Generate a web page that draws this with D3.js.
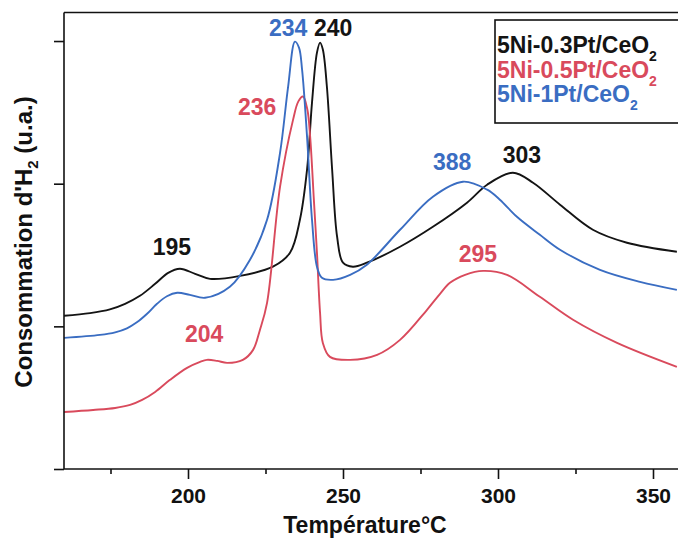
<!DOCTYPE html>
<html><head><meta charset="utf-8">
<script src="https://cdn.jsdelivr.net/npm/d3@7/dist/d3.min.js"></script>
<style>
html,body{margin:0;padding:0;background:#fff;}
svg{display:block;font-family:"Liberation Sans",Arial,sans-serif;font-weight:bold;}
</style></head>
<body><svg id="c" width="678" height="540"></svg>
<script>
// ---- data ----
const seriesNames = ["5Ni-0.3Pt/CeO", "5Ni-0.5Pt/CeO", "5Ni-1Pt/CeO"];
const seriesColors = ["#141414", "#d94a5c", "#3a6dc2"];
const temp03 = [160,168.4,174.8,179.7,184.5,189.4,193.6,197.4,202.3,207.1,216.8,227.4,232.9,236.1,238.4,240.0,241.6,242.6,243.5,244.8,246.5,248.1,250.0,253.2,257.7,268.4,279.0,290.0,296.5,304.8,311.3,320.0,330.6,341.6,357.7];
const val03  = [1.074,1.093,1.119,1.158,1.214,1.298,1.375,1.404,1.368,1.333,1.354,1.418,1.516,1.747,2.098,2.568,2.919,2.989,2.940,2.681,2.098,1.628,1.446,1.418,1.446,1.558,1.698,1.867,1.993,2.077,2.007,1.853,1.677,1.586,1.523];
const temp05 = [160,169.4,176.5,181.3,185.2,189.4,194.2,199.7,203.9,206.1,209.4,212.6,217.7,221.0,223.2,225.5,229.7,233.9,235.6,237.1,238.5,239.4,240.6,241.6,242.6,243.5,245.8,252.3,261.0,268.4,277.1,281.3,284.5,289.4,295.2,302.9,313.5,324.2,338.4,357.7];
const val05  = [0.400,0.414,0.428,0.449,0.484,0.540,0.625,0.709,0.751,0.765,0.758,0.744,0.765,0.835,0.975,1.165,1.979,2.449,2.577,2.611,2.520,2.330,1.888,1.516,1.095,0.884,0.786,0.765,0.800,0.905,1.116,1.228,1.305,1.361,1.389,1.361,1.207,1.046,0.884,0.716];
const temp1  = [160,171.6,176.5,180.3,183.5,186.8,190.0,193.2,196.5,200.6,205.5,213.5,220.0,225.5,229.7,232.3,234.5,235.8,236.8,238.4,240.0,241.6,243.2,246.8,252.3,257.7,268.4,279.0,288.7,296.5,300.6,306.1,313.5,320.0,332.9,345.8,357.7];
const val1   = [0.919,0.940,0.958,0.986,1.028,1.088,1.158,1.211,1.235,1.221,1.200,1.277,1.467,1.747,2.218,2.681,2.996,2.954,2.800,2.330,1.747,1.418,1.340,1.326,1.361,1.432,1.677,1.909,2.014,1.958,1.888,1.768,1.642,1.537,1.396,1.312,1.256];
const xMajorTicks = [200, 250, 300, 350];
const xMinorTicks = [175, 225, 275, 325];
const yTicks = [0, 1, 2, 3];
const peakLabels = [
  {t:"195", s:0, x:194.8, y:1.502},
  {t:"240", s:0, x:246.8, y:3.032},
  {t:"303", s:0, x:307.7, y:2.147},
  {t:"236", s:1, x:222.3, y:2.484},
  {t:"204", s:1, x:205.2, y:0.891},
  {t:"295", s:1, x:293.5, y:1.453},
  {t:"234", s:2, x:232.3, y:3.032},
  {t:"388", s:2, x:285.2, y:2.098}
];
const xTitle = "Température°C";

// ---- chart ----
const svg = d3.select("#c");
const mL = 64, mR = 684, mT = 12.5, mB = 469;
const x = d3.scaleLinear().domain([160, 360]).range([mL, mR]);
const y = d3.scaleLinear().domain([0, 3.2]).range([mB, mT]);

const series = [
  {name: seriesNames[0], color: seriesColors[0], t: temp03, v: val03},
  {name: seriesNames[1], color: seriesColors[1], t: temp05, v: val05},
  {name: seriesNames[2], color: seriesColors[2], t: temp1,  v: val1}
];

svg.append("defs").append("clipPath").attr("id","clip")
  .append("rect").attr("x",mL).attr("y",mT).attr("width",mR-mL).attr("height",mB-mT);

const line = d3.line().x(d => x(d[0])).y(d => y(d[1])).curve(d3.curveCatmullRom.alpha(0.5));
const g = svg.append("g").attr("clip-path","url(#clip)");
series.forEach(s => {
  g.append("path").datum(s.t.map((t,i)=>[t,s.v[i]]))
    .attr("fill","none").attr("stroke",s.color).attr("stroke-width",1.9)
    .attr("stroke-linejoin","round").attr("d",line);
});

// axes
const xAxis = svg.append("g").attr("transform",`translate(0,${mB})`)
  .call(d3.axisBottom(x).tickValues(xMajorTicks).tickSize(10).tickPadding(9).tickFormat(d3.format("d")));
const xMinor = svg.append("g").attr("transform",`translate(0,${mB})`)
  .call(d3.axisBottom(x).tickValues(xMinorTicks).tickSize(5).tickFormat(""));
const yAxis = svg.append("g").attr("transform",`translate(${mL},0)`)
  .call(d3.axisLeft(y).tickValues(yTicks).tickSize(10).tickFormat(""));
[xAxis,xMinor,yAxis].forEach(a=>{
  a.select(".domain").remove();
  a.selectAll(".tick line").attr("stroke","#111").attr("stroke-width",1.6);
});
xAxis.selectAll(".tick text").attr("font-size",21).attr("font-family","'Liberation Sans',Arial,sans-serif")
  .attr("font-weight","bold").attr("fill","#111");
// axis frame lines
svg.append("line").attr("x1",mL).attr("x2",678).attr("y1",mB).attr("y2",mB).attr("stroke","#111").attr("stroke-width",1.6);
svg.append("line").attr("x1",mL).attr("x2",678).attr("y1",mT).attr("y2",mT).attr("stroke","#111").attr("stroke-width",1.6);
svg.append("line").attr("x1",mL).attr("x2",mL).attr("y1",mT).attr("y2",mB).attr("stroke","#111").attr("stroke-width",1.6);

// titles
svg.append("text").attr("x",365).attr("y",533).attr("text-anchor","middle")
  .attr("font-size",23).attr("fill","#111").text(xTitle);
const yt = svg.append("text").attr("transform","translate(32,242) rotate(-90)")
  .attr("text-anchor","middle").attr("font-size",24).attr("fill","#111");
yt.append("tspan").text("Consommation d'H");
yt.append("tspan").attr("font-size",15).attr("dy",6).text("2");
yt.append("tspan").attr("dy",-6).text(" (u.a.)");

// peak labels
svg.append("g").selectAll("text").data(peakLabels).join("text")
  .attr("x",d=>x(d.x)).attr("y",d=>y(d.y)).attr("text-anchor","middle")
  .attr("font-size",23).attr("fill",d=>seriesColors[d.s]).text(d=>d.t);

// legend
const lg = svg.append("g");
lg.append("rect").attr("x",495).attr("y",20).attr("width",200).attr("height",103)
  .attr("fill","#fff").attr("stroke","#111").attr("stroke-width",1.6);
series.forEach((s,i)=>{
  const t = lg.append("text").attr("x",497).attr("y",53+i*24.5).attr("font-size",23).attr("fill",s.color);
  t.append("tspan").text(s.name);
  t.append("tspan").attr("font-size",14).attr("dy",8).text("2");
});
</script></body></html>
